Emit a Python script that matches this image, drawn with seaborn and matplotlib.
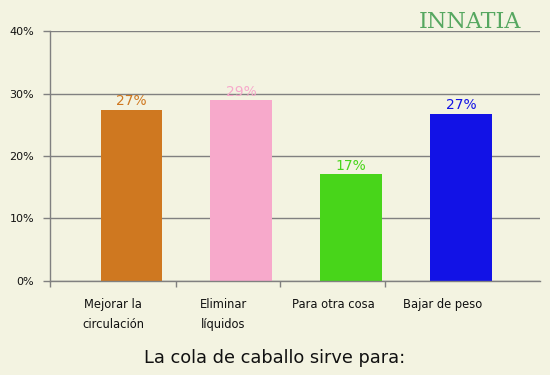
import matplotlib
matplotlib.use('Agg')
import matplotlib.pyplot as plt
import matplotlib.transforms as mtransforms
import seaborn as sns
import pandas as pd

# Data
categories = ['Mejorar la\ncirculación', 'Eliminar\nlíquidos', 'Para otra cosa', 'Bajar de peso']
values = [27.4, 28.9, 17.1, 26.8]
value_labels = ['27%', '29%', '17%', '27%']
colors = ['#cf7820', '#f7a9cb', '#48d51a', '#1212e6']
yticks = [0, 10, 20, 30, 40]
ytick_labels = ['0%', '10%', '20%', '30%', '40%']
title = 'La cola de caballo sirve para:'

bg = '#f3f3e1'
df = pd.DataFrame({'cat': categories, 'val': values})

sns.set_style('white')
plt.rcParams['font.family'] = ['DejaVu Sans']

fig = plt.figure(figsize=(5.5, 3.75), dpi=100, facecolor=bg)
ax = fig.add_axes([0.0909, 0.2507, 0.8909, 0.6666], facecolor=bg)
ax.set_axisbelow(True)

sns.barplot(data=df, x='cat', y='val', hue='cat', palette=colors, order=categories,
            hue_order=categories, legend=False, width=0.56, saturation=1, ax=ax,
            linewidth=0, edgecolor='none')

# value labels in bar colour
for cont, lab, col in zip(ax.containers, value_labels, colors):
    ax.bar_label(cont, labels=[lab], color=col, fontsize=10, padding=1)

ax.set_ylim(0, 40)
ax.set_xlim(-0.725, 3.72)
ax.set_yticks(yticks)
ax.set_yticklabels(ytick_labels, fontsize=8)
ax.yaxis.grid(True, color='#808080', linewidth=1)
ax.tick_params(axis='y', left=True, length=5, width=1, color='#808080', pad=6.5,
               labelcolor='#111111')

# category labels without tick lines, separator ticks as minor ticks
ax.tick_params(axis='x', which='major', bottom=False, length=0, pad=12, labelsize=8.3,
               labelcolor='#111111')
ax.set_xticks([-0.74, 0.41, 1.35, 2.31], minor=True)
ax.tick_params(axis='x', which='minor', bottom=True, length=4.3, width=1, color='#808080')
offset = mtransforms.ScaledTranslation(-18 / 100, 0, fig.dpi_scale_trans)
for lbl in ax.get_xticklabels():
    lbl.set_transform(lbl.get_transform() + offset)
    lbl.set_linespacing(1.75)

ax.set_xlabel('')
ax.set_ylabel('')
fig.text(0.5, 1 - 358 / 375, title, fontsize=12.8, color='#111111', ha='center', va='center')

for s in ['top', 'right']:
    ax.spines[s].set_visible(False)
for s in ['left', 'bottom']:
    ax.spines[s].set_color('#808080')
    ax.spines[s].set_linewidth(1)

# logo text
fig.text(0.855, 0.942, 'INNATIA', color='#3a9a4a', fontsize=16, family='DejaVu Serif',
         ha='center', va='center', alpha=0.85)

fig.savefig('out.png', dpi=100, facecolor=bg)
